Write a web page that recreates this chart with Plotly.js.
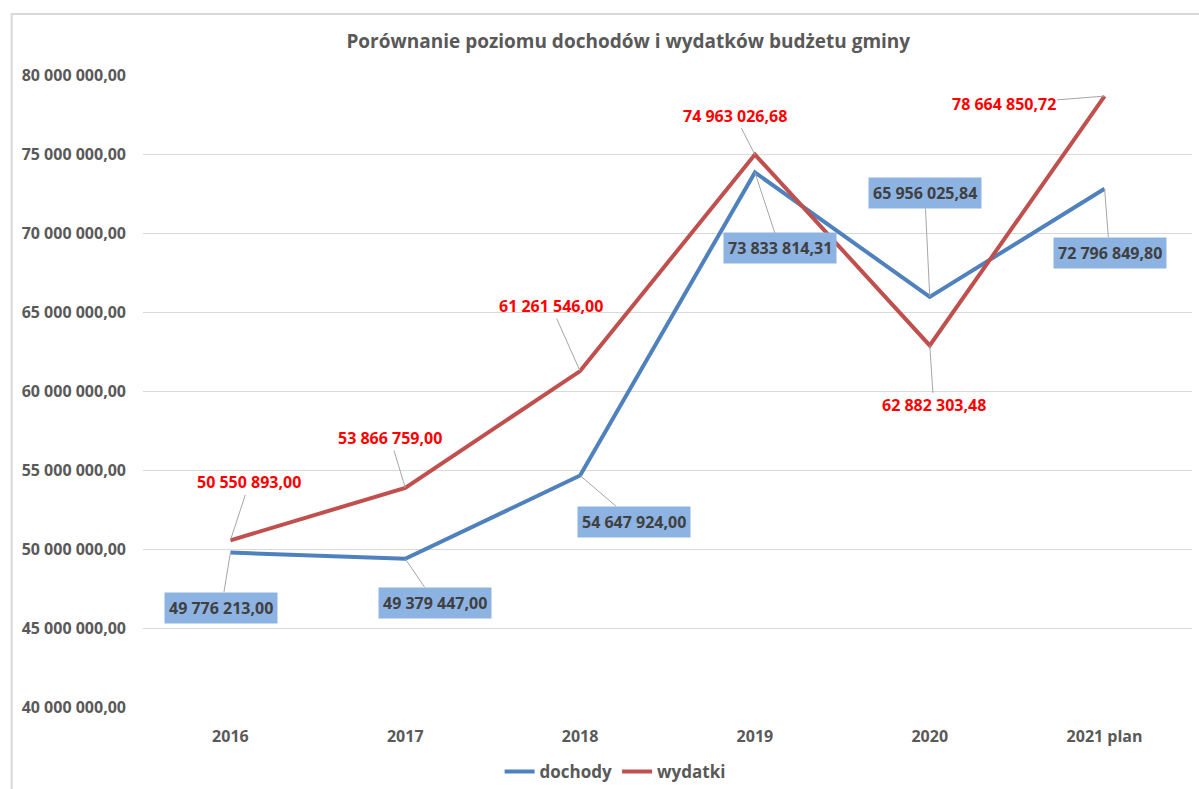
<!DOCTYPE html>
<html>
<head>
<meta charset="utf-8">
<script src="https://cdn.plot.ly/plotly-3.0.1.min.js"></script>
<style>
  body { margin: 0; background: #fff; }
  #chart { width: 1199px; height: 789px; }
</style>
</head>
<body>
<div id="chart"></div>
<script>
// dane
const years = ['2016', '2017', '2018', '2019', '2020', '2021 plan'];
const dochody = [49776213.00, 49379447.00, 54647924.00, 73833814.31, 65956025.84, 72796849.80];
const wydatki = [50550893.00, 53866759.00, 61261546.00, 74963026.68, 62882303.48, 78664850.72];

// label offsets (px) from the point
const dochodyOff = [[-9, 55], [30, 44], [54, 46], [25, 76], [-5, -104], [5, 64]];
const wydatkiOff = [[19, -58], [-15, -50], [-29, -65], [-20, -39], [4, 60], [-101, 8]];

const blue = '#4f81bd';
const red = '#c0504d';
const font = 'Open Sans, Lato, sans-serif';

function fmt(v) {
    let s = v.toFixed(2).split('.');
    let intPart = s[0].replace(/\B(?=(\d{3})+(?!\d))/g, ' ');
    return intPart + ',' + s[1];
}

let annotations = [];
years.forEach((y, i) => {
    annotations.push({
        x: i, y: wydatki[i], text: fmt(wydatki[i]),
        showarrow: true, arrowhead: 0, arrowwidth: 1, arrowcolor: '#a6a6a6',
        ax: wydatkiOff[i][0], ay: wydatkiOff[i][1], standoff: 0,
        font: {family: font, size: 16, color: '#ff0000', weight: 'bold'}
    });
    annotations.push({
        x: i, y: dochody[i], text: fmt(dochody[i]),
        showarrow: true, arrowhead: 0, arrowwidth: 1, arrowcolor: '#a6a6a6',
        ax: dochodyOff[i][0], ay: dochodyOff[i][1], standoff: 0,
        bgcolor: '#8db3e2', borderpad: 4,
        font: {family: font, size: 16, color: '#404040', weight: 'bold'}
    });
});

let trace1 = {
    x: years, y: dochody, mode: 'lines', name: 'dochody',
    line: {color: blue, width: 4}
};
let trace2 = {
    x: years, y: wydatki, mode: 'lines', name: 'wydatki',
    line: {color: red, width: 4}
};

let layout = {
    width: 1199, height: 789,
    margin: {l: 142.5, r: 6.5, t: 75, b: 82},
    separators: ', ',
    paper_bgcolor: '#fff', plot_bgcolor: '#fff',
    font: {family: font, color: '#595959'},
    title: {
        text: 'Porównanie poziomu dochodów i wydatków budżetu gminy',
        x: 0.524, xanchor: 'center', y: 0.947, yanchor: 'middle',
        font: {size: 19, color: '#595959', weight: 'bold'}
    },
    xaxis: {
        type: 'category', categoryorder: 'array', categoryarray: years,
        range: [-0.5, 5.5], autorange: false, automargin: false,
        showgrid: false, zeroline: false, showline: false,
        ticks: '', tickfont: {size: 16, weight: 'bold', color: '#595959'},
        ticklabelstandoff: 18
    },
    yaxis: {
        range: [40000000, 80000000], dtick: 5000000, tickformat: ',.2f',
        automargin: false,
        gridcolor: '#d9d9d9', gridwidth: 1, zeroline: false, showline: false,
        tickfont: {size: 16, weight: 'bold', color: '#595959'},
        ticklabelstandoff: 16
    },
    showlegend: true,
    legend: {
        orientation: 'h', xref: 'container', yref: 'container',
        x: 0.513, xanchor: 'center', y: 0.0215, yanchor: 'middle',
        font: {size: 17, color: '#595959', weight: 'bold'}
    },
    annotations: annotations,
    shapes: [{
        type: 'rect', xref: 'paper', yref: 'paper', layer: 'below',
        x0: -0.1252, x1: 1.2, y0: -0.3, y1: 1.0965,
        line: {color: '#d9d9d9', width: 2}
    }]
};

Plotly.newPlot('chart', [trace1, trace2], layout, {displayModeBar: false});
</script>
</body>
</html>
